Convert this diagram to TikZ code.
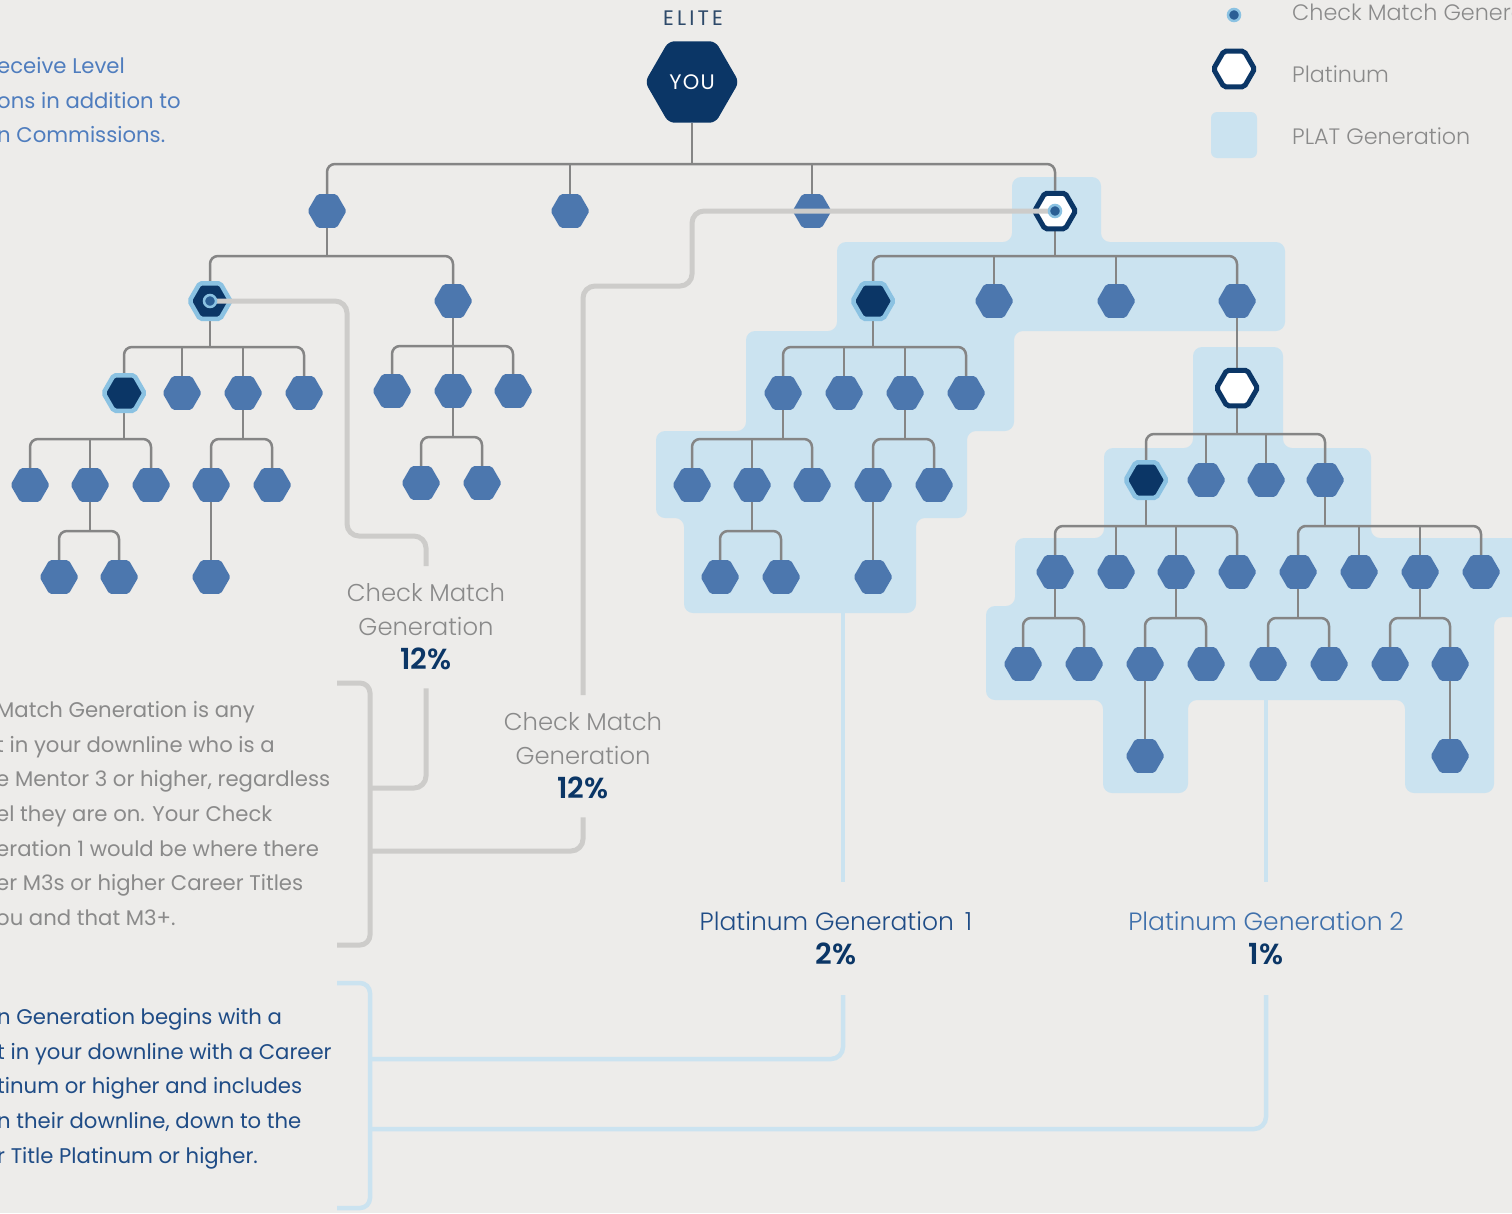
\documentclass[tikz,border=0pt]{standalone}
\usepackage{fontspec}
\setmainfont{Poppins}
\IfFontExistsTF{Poppins Light}{\newfontfamily\lightfont{Poppins Light}}{\newfontfamily\lightfont{Poppins}}
\IfFontExistsTF{Poppins SemiBold}{\newfontfamily\pctfont{Poppins SemiBold}}{\newcommand\pctfont{\bfseries}}
\usetikzlibrary{shapes.geometric,calc,positioning}

\definecolor{paper}{HTML}{EDECEA}
\definecolor{hexblue}{HTML}{4C77AE}
\definecolor{navy}{HTML}{0B3666}
\definecolor{ringblue}{HTML}{8BC2E2}
\definecolor{dotblue}{HTML}{2B5F95}
\definecolor{platfill}{HTML}{CBE3F0}
\definecolor{treegray}{HTML}{858585}
\definecolor{cmgray}{HTML}{CDCCCA}
\definecolor{textgray}{HTML}{8A8A8A}
\definecolor{topblue}{HTML}{4F7DBE}
\definecolor{deepblue}{HTML}{1F4C86}
\definecolor{midblue}{HTML}{3F70AB}
\definecolor{elitecol}{HTML}{2E4A6A}

\pgfdeclarelayer{regions}
\pgfdeclarelayer{links}
\pgfdeclarelayer{front}
\pgfsetlayers{regions,links,main,front}

\newcommand{\pcttext}[1]{{\color{navy}\pctfont\fontsize{29}{34}\selectfont #1}}

\tikzset{
  hexa/.style={regular polygon, regular polygon sides=6, minimum size=39pt,
    inner sep=0pt, fill=hexblue, rounded corners=2pt},
  hexnavy/.style={hexa, fill=navy, draw=ringblue, line width=4.5pt, minimum size=41pt},
  hexplat/.style={hexa, fill=white, draw=navy, line width=5pt, minimum size=41pt},
  hexyou/.style={hexa, fill=navy, minimum size=94pt, rounded corners=6pt, text=white,
    font=\fontsize{21}{21}\selectfont\addfontfeature{LetterSpace=6}},
  cmdot/.style={circle, fill=dotblue, draw=ringblue, line width=2.5pt,
    minimum size=12pt, inner sep=0pt},
  tree/.style={draw=treegray, line width=2.5pt, rounded corners=8pt},
  cmline/.style={draw=cmgray, line width=5pt, rounded corners=12pt},
  plline/.style={draw=platfill, line width=4.5pt, rounded corners=12pt},
  para/.style={align=left, inner sep=0pt, anchor=north west,
    font=\fontsize{21.2}{34.7}\selectfont},
  genlabel/.style={align=center, inner sep=0pt, outer xsep=0pt, outer ysep=18pt,
    anchor=north, font=\lightfont\fontsize{24.3}{34}\selectfont},
  legtext/.style={anchor=base west, inner sep=0pt, text=textgray,
    font=\lightfont\fontsize{22.3}{24}\selectfont}
}

% parent, first and last child; middle children as option
\newcommand{\kids}[4][]{%
  \path ($(#2)!.5!(#3)$) coordinate (bus);
  \draw[tree] (#2) -- (#2 |- bus);
  \draw[tree] (#3) |- (bus) -| (#4);
  \if\relax\detokenize{#1}\relax\else
    \foreach \k in {#1} {\draw[tree] (\k) -- (\k |- bus);}
  \fi
}

\begin{document}
\begin{tikzpicture}[x=1pt,y=-1pt]
\useasboundingbox (0,0) rectangle (1512,1213);

\begin{pgfonlayer}{regions}
  \fill[paper] (0,0) rectangle (1512,1213);
  \fill[platfill, rounded corners=9pt] (1012,177) -- (1101,177) -- (1101,242) -- (1285,242)
    -- (1285,331) -- (1014,331) -- (1014,431) -- (967,431) -- (967,518) -- (916,518)
    -- (916,613) -- (684,613) -- (684,518) -- (656,518) -- (656,431) -- (746,431)
    -- (746,331) -- (837,331) -- (837,242) -- (1012,242) -- cycle;
  \fill[platfill, rounded corners=9pt] (1193,347) -- (1283,347) -- (1283,448) -- (1371,448)
    -- (1371,538) -- (1530,538) -- (1530,617) -- (1494,617) -- (1494,793) -- (1405,793)
    -- (1405,700) -- (1188,700) -- (1188,793) -- (1103,793) -- (1103,700) -- (986,700)
    -- (986,606) -- (1015,606) -- (1015,538) -- (1104,538) -- (1104,448) -- (1193,448) -- cycle;
\end{pgfonlayer}

% top
\node[text=elitecol, anchor=base, font=\fontsize{21}{21}\selectfont\addfontfeature{LetterSpace=15}]
  at (693,25) (elite) {ELITE};
\node[hexyou] at (692,82) (you) {YOU};
\node[hexa] at (327,211) (a1) {};
\node[hexa] at (570,211) (a2) {};
\node[hexa] at (812,211) (a3) {};
\node[hexplat] at (1055,211) (a4) {};

% left branch
\node[hexnavy] at (210,301) (b1) {};
\node[hexa] at (453,301) (b2) {};
\node[hexnavy] at (124,393) (c1) {};
\foreach \n/\x in {c2/182,c3/243,c4/304} \node[hexa] at (\x,393) (\n) {};
\foreach \n/\x in {c5/392,c6/453,c7/513} \node[hexa] at (\x,391) (\n) {};
\foreach \n/\x in {d1/30,d2/90,d3/151,d4/211,d5/272} \node[hexa] at (\x,485) (\n) {};
\foreach \n/\x in {d6/421,d7/482} \node[hexa] at (\x,483) (\n) {};
\foreach \n/\x in {e1/59,e2/119,e3/211} \node[hexa] at (\x,577) (\n) {};

% platinum branch
\node[hexnavy] at (873,301) (f1) {};
\foreach \n/\x in {f2/994,f3/1116,f4/1237} \node[hexa] at (\x,301) (\n) {};
\foreach \n/\x in {g1/783,g2/844,g3/905,g4/966} \node[hexa] at (\x,393) (\n) {};
\foreach \n/\x in {h1/692,h2/752,h3/812,h4/873,h5/934} \node[hexa] at (\x,485) (\n) {};
\foreach \n/\x in {i1/720,i2/781,i3/873} \node[hexa] at (\x,577) (\n) {};
\node[hexplat] at (1237,388) (p2) {};
\node[hexnavy] at (1146,480) (j1) {};
\foreach \n/\x in {j2/1206,j3/1266,j4/1325} \node[hexa] at (\x,480) (\n) {};
\foreach \n/\x in {k1/1055,k2/1116,k3/1176,k4/1237,k5/1298,k6/1359,k7/1420,k8/1481}
  \node[hexa] at (\x,572) (\n) {};
\foreach \n/\x in {l1/1023,l2/1084,l3/1145,l4/1206,l5/1268,l6/1329,l7/1390,l8/1450}
  \node[hexa] at (\x,664) (\n) {};
\foreach \n/\x in {m1/1145,m2/1450} \node[hexa] at (\x,756) (\n) {};

\begin{pgfonlayer}{links}
  \coordinate (ybus) at (692,164);
  \draw[tree] (you) -- (ybus);
  \draw[tree] (a1) |- (ybus) -| (a4);
  \draw[tree] (a2) -- (a2 |- ybus);
  \draw[tree] (a3) -- (a3 |- ybus);
  \kids{a1}{b1}{b2}
  \kids[c2,c3]{b1}{c1}{c4}
  \kids[c6]{b2}{c5}{c7}
  \kids[d2]{c1}{d1}{d3}
  \kids{c3}{d4}{d5}
  \kids{d2}{e1}{e2}
  \draw[tree] (d4) -- (e3);
  \kids{c6}{d6}{d7}
  \kids[f2,f3]{a4}{f1}{f4}
  \kids[g2,g3]{f1}{g1}{g4}
  \kids[h2]{g1}{h1}{h3}
  \kids{g3}{h4}{h5}
  \kids{h2}{i1}{i2}
  \draw[tree] (h4) -- (i3);
  \draw[tree] (f4) -- (p2);
  \kids[j2,j3]{p2}{j1}{j4}
  \kids[k2,k3]{j1}{k1}{k4}
  \kids[k6,k7]{j4}{k5}{k8}
  \kids{k1}{l1}{l2}
  \kids{k3}{l3}{l4}
  \kids{k5}{l5}{l6}
  \kids{k7}{l7}{l8}
  \draw[tree] (l3) -- (m1);
  \draw[tree] (l8) -- (m2);
\end{pgfonlayer}

% labels
\node[genlabel, text=textgray] at (426,566) (cm1) {Check Match\\Generation\\\pcttext{12\%}};
\node[genlabel, text=textgray] at (583,695) (cm2) {Check Match\\Generation\\\pcttext{12\%}};
\node[genlabel, text=deepblue, outer ysep=30pt, font=\lightfont\fontsize{25}{34}\selectfont]
  at (836,882) (pg1) {Platinum Generation\ \,1\\\pcttext{2\%}};
\node[genlabel, text=midblue, outer ysep=30pt, font=\lightfont\fontsize{25}{34}\selectfont]
  at (1266,882) (pg2) {Platinum Generation 2\\\pcttext{1\%}};

% texts on the left
\node[para, text=topblue] at (-3,57) (intro) {eceive Level\\ons in addition to\\n Commissions.};
\node[para, text=textgray] at (-4,701) (cmtext) {Match Generation is any\\t in your downline who is a\\e Mentor 3 or higher, regardless\\el they are on. Your Check\\eration 1 would be where there\\er M3s or higher Career Titles\\ou and that M3+.};
\node[para, text=deepblue] at (-3,1008) (pgtext) {n Generation begins with a\\t in your downline with a Career\\tinum or higher and includes\\n their downline, down to the\\r Title Platinum or higher.};

% legend
\node[cmdot] at (1234,15) (lgdot) {};
\node[hexplat, minimum size=41pt] at (1234,69) (lgplat) {};
\node[fill=platfill, rounded corners=6pt, minimum size=46pt, inner sep=0pt] at (1234,135) (lgsq) {};
\node[legtext] at (1292,20) (lgcm) {Check Match Genera};
\node[legtext] at (1292,82) (lgpl) {Platinum};
\node[legtext] at (1292,144) (lgpg) {PLAT Generation};

% brackets
\coordinate (gb1) at (370,788);
\coordinate (gb2) at (370,851);
\coordinate (bb1) at (370,1059);
\coordinate (bb2) at (370,1129);
\draw[cmline, rounded corners=10pt] (337,683) -| (370,945) -- (337,945);
\draw[plline, rounded corners=10pt] (337,983) -| (370,1208) -- (337,1208);
\draw[cmline] (cm1.south) |- (gb1);
\draw[cmline] (cm2.south) |- (gb2);
\coordinate (pg1top) at (843,613);
\coordinate (pg2top) at (1266,700);
\draw[plline] (pg1top) -- (pg1top |- pg1.north);
\draw[plline] (pg2top) -- (pg2top |- pg2.north);
\draw[plline] (pg1.south -| pg1top) |- (bb1);
\draw[plline] (pg2.south -| pg2top) |- (bb2);

\begin{pgfonlayer}{front}
  \draw[cmline] (b1.center) -| (347,536) -| (cm1.north);
  \draw[cmline] (a4.center) -| (692,286) -| (cm2.north);
  \node[cmdot] at (b1) (b1dot) {};
  \node[cmdot] at (a4) (a4dot) {};
\end{pgfonlayer}
\end{tikzpicture}
\end{document}
